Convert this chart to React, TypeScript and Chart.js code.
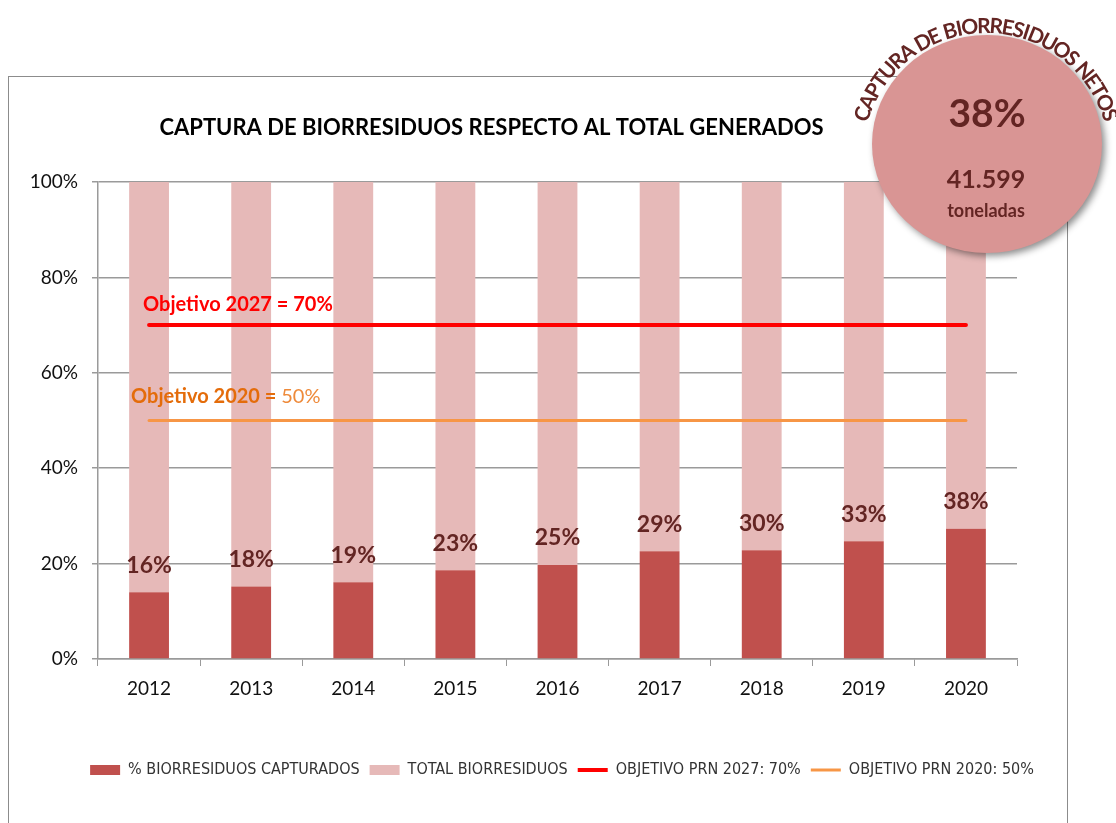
import React, { useEffect, useRef } from 'react';
import { Chart, registerables } from 'chart.js';

Chart.register(...registerables);

const years = ['2012', '2013', '2014', '2015', '2016', '2017', '2018', '2019', '2020'];
const capturados = [14.0, 15.2, 16.1, 18.6, 19.7, 22.6, 22.8, 24.7, 27.3];
const totalRestante = [86.0, 84.8, 83.9, 81.4, 80.3, 77.4, 77.2, 75.3, 72.7];
const etiquetas = ['16%', '18%', '19%', '23%', '25%', '29%', '30%', '33%', '38%'];
const objetivo2027 = [70, 70, 70, 70, 70, 70, 70, 70, 70];
const objetivo2020 = [50, 50, 50, 50, 50, 50, 50, 50, 50];

const TITLE = 'CAPTURA DE BIORRESIDUOS RESPECTO AL TOTAL GENERADOS';
const ARC_TEXT = 'CAPTURA DE BIORRESIDUOS NETOS';
const BADGE_PCT = '38%';
const BADGE_TON = '41.599';
const BADGE_UNIT = 'toneladas';

const DARK = '#C0504D';
const LIGHT = '#E6B9B8';
const MAROON = '#632523';
const GRID = '#9a9a9a';
const FONT = 'Lato, "Open Sans", sans-serif';
const NARROW = '"Liberation Sans Narrow", "DejaVu Sans Condensed", "Liberation Sans", sans-serif';

const decorPlugin = {
  id: 'decor',
  beforeDraw(chart: any) {
    const ctx = chart.ctx;
    ctx.save();
    ctx.fillStyle = '#ffffff';
    ctx.fillRect(0, 0, chart.width, chart.height);
    ctx.strokeStyle = '#8c8c8c';
    ctx.lineWidth = 1;
    ctx.strokeRect(8.5, 76.5, 1059, 800);
    ctx.fillStyle = '#000000';
    ctx.font = `bold 22px ${FONT}`;
    ctx.textAlign = 'center';
    ctx.textBaseline = 'middle';
    ctx.fillText(TITLE, 491.5, 128);
    ctx.restore();
  },
  afterDatasetsDraw(chart: any) {
    const ctx = chart.ctx;
    ctx.save();
    const meta0 = chart.getDatasetMeta(0);
    ctx.fillStyle = MAROON;
    ctx.font = `bold 23px ${FONT}`;
    ctx.textAlign = 'center';
    ctx.textBaseline = 'middle';
    meta0.data.forEach((el: any, i: number) => {
      ctx.fillText(etiquetas[i], el.x, el.y - 27);
    });
    const m2 = chart.getDatasetMeta(2).data[0];
    ctx.textAlign = 'left';
    ctx.fillStyle = '#FF0000';
    ctx.font = `bold 20px ${FONT}`;
    ctx.fillText('Objetivo 2027 = 70%', m2.x - 6, m2.y - 21);
    const m3 = chart.getDatasetMeta(3).data[0];
    ctx.fillStyle = '#E46C0A';
    const bold = 'Objetivo 2020 = ';
    ctx.fillText(bold, m3.x - 18, m3.y - 24);
    const w = ctx.measureText(bold).width;
    ctx.font = `20px ${FONT}`;
    ctx.fillStyle = '#EE8A3A';
    ctx.fillText('50%', m3.x - 18 + w, m3.y - 24);
    ctx.restore();
  },
  afterDraw(chart: any) {
    const ctx = chart.ctx;
    ctx.save();
    ctx.shadowColor = 'rgba(0,0,0,0.45)';
    ctx.shadowBlur = 7;
    ctx.shadowOffsetX = 3;
    ctx.shadowOffsetY = 3;
    ctx.fillStyle = '#D99594';
    ctx.beginPath();
    ctx.ellipse(987, 144, 115, 109, 0, 0, Math.PI * 2);
    ctx.fill();
    ctx.shadowColor = 'transparent';
    ctx.shadowBlur = 0;
    ctx.shadowOffsetX = 0;
    ctx.shadowOffsetY = 0;
    ctx.fillStyle = MAROON;
    ctx.textAlign = 'center';
    ctx.textBaseline = 'middle';
    ctx.font = `bold 39px ${FONT}`;
    ctx.fillText(BADGE_PCT, 987, 114);
    ctx.font = `bold 25px ${FONT}`;
    ctx.fillText(BADGE_TON, 986, 180);
    ctx.font = `bold 18px ${FONT}`;
    ctx.fillText(BADGE_UNIT, 986, 211);
    ctx.font = `bold 21px ${FONT}`;
    ctx.textBaseline = 'alphabetic';
    const cx = 986, cy = 156, R = 123;
    const chars = ARC_TEXT.split('');
    const widths = chars.map((c) => ctx.measureText(c).width);
    const W = widths.reduce((a, b) => a + b, 0);
    const sweep = (148 * Math.PI) / 180;
    const start = -Math.PI / 2 - sweep / 2;
    let acc = 0;
    chars.forEach((c, i) => {
      const a = start + ((acc + widths[i] / 2) / W) * sweep;
      ctx.save();
      ctx.translate(cx + R * Math.cos(a), cy + R * Math.sin(a));
      ctx.rotate(a + Math.PI / 2);
      ctx.fillText(c, 0, 0);
      ctx.restore();
      acc += widths[i];
    });
    ctx.restore();
  },
};

export default function App() {
  const ref = useRef<HTMLCanvasElement | null>(null);
  useEffect(() => {
    if (!ref.current) return;
    const chart = new Chart(ref.current, {
      type: 'bar',
      data: {
        labels: years,
        datasets: [
          {
            type: 'bar',
            label: '% BIORRESIDUOS CAPTURADOS',
            data: capturados,
            backgroundColor: DARK,
            stack: 'bars',
            order: 2,
            barPercentage: 0.39,
            categoryPercentage: 1,
            pointStyle: 'rect',
          },
          {
            type: 'bar',
            label: 'TOTAL BIORRESIDUOS',
            data: totalRestante,
            backgroundColor: LIGHT,
            stack: 'bars',
            order: 2,
            barPercentage: 0.39,
            categoryPercentage: 1,
            pointStyle: 'rect',
          },
          {
            type: 'line',
            label: 'OBJETIVO PRN 2027: 70%',
            data: objetivo2027,
            borderColor: '#FF0000',
            backgroundColor: '#FF0000',
            borderWidth: 4,
            borderCapStyle: 'round',
            pointRadius: 0,
            stack: 'o1',
            order: 1,
            pointStyle: 'line',
          },
          {
            type: 'line',
            label: 'OBJETIVO PRN 2020: 50%',
            data: objetivo2020,
            borderColor: '#F79646',
            backgroundColor: '#F79646',
            borderWidth: 3,
            borderCapStyle: 'round',
            pointRadius: 0,
            stack: 'o2',
            order: 1,
            pointStyle: 'line',
          },
        ],
      } as any,
      options: {
        responsive: false,
        animation: false,
        layout: { padding: { left: 8, right: 0, top: 182, bottom: 35 } },
        plugins: {
          title: { display: false },
          tooltip: { enabled: false },
          legend: {
            position: 'bottom',
            labels: {
              usePointStyle: true,
              pointStyleWidth: 30,
              boxHeight: 10,
              padding: 10,
              color: '#333333',
              font: { family: NARROW, size: 16 },
              sort: (a: any, b: any) => a.datasetIndex - b.datasetIndex,
            },
          },
        },
        scales: {
          x: {
            stacked: true,
            offset: true,
            grid: {
              display: true,
              offset: true,
              drawOnChartArea: false,
              drawTicks: true,
              tickLength: 7,
              color: GRID,
            },
            border: { display: true, color: GRID, width: 1.5 },
            ticks: { color: '#111', font: { family: FONT, size: 19 }, padding: 11 },
            afterFit: (s: any) => {
              s.height = 93;
            },
          },
          y: {
            stacked: true,
            min: 0,
            max: 100,
            ticks: {
              stepSize: 20,
              color: '#111',
              font: { family: FONT, size: 19 },
              padding: 14,
              callback: (v: any) => `${v}%`,
            },
            grid: { color: GRID, lineWidth: 1.5, tickLength: 6, drawTicks: true },
            border: { display: true, color: GRID, width: 1.5 },
            afterFit: (s: any) => {
              s.width = 90;
            },
          },
          y2: {
            position: 'right',
            display: true,
            grid: { display: false },
            border: { display: false },
            ticks: { display: false },
            afterFit: (s: any) => {
              s.width = 99;
            },
          },
        },
      } as any,
      plugins: [decorPlugin],
    });
    return () => chart.destroy();
  }, []);
  return (
    <div style={{ position: 'fixed', left: 0, top: 0, width: 1116, height: 823, background: '#fff' }}>
      <canvas ref={ref} width={1116} height={823} style={{ display: 'block' }} />
    </div>
  );
}
